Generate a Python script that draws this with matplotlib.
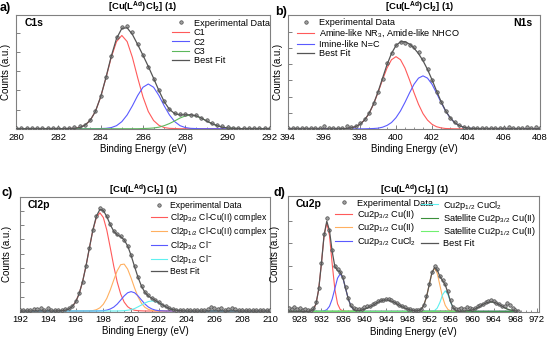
import matplotlib
matplotlib.use('Agg')
import matplotlib.pyplot as plt
import numpy as np
from matplotlib.ticker import AutoMinorLocator, MultipleLocator

plt.rcParams['font.family'] = ['Liberation Sans', 'DejaVu Sans']
plt.rcParams['mathtext.fontset'] = 'custom'
plt.rcParams['mathtext.rm'] = 'Liberation Sans'
plt.rcParams['mathtext.it'] = 'Liberation Sans:italic'
plt.rcParams['mathtext.bf'] = 'Liberation Sans:bold'

# ---------------- data (arbitrary count units) ----------------
# a) C1s, exp points every 0.25 eV from 280
c1s_exp = [0.04, 0.06, 0.03, 0.05, 0.02, 0.04, 0.03, 0.05, 0.04, 0.06, 0.05, 0.08, 0.12,
           0.22, 0.45, 0.93, 1.70, 2.70, 3.80, 4.78, 5.30, 5.38, 5.05, 4.42, 3.86, 3.22,
           2.62, 2.02, 1.45, 1.05, 0.82, 0.76, 0.75, 0.74, 0.70, 0.58, 0.44, 0.30, 0.19,
           0.12, 0.08, 0.06, 0.04, 0.05, 0.03, 0.04, 0.05, 0.03, 0.04]
# fit components: (start eV, values every 0.25 eV)
c1s_C1 = (282.5, [0.01, 0.02, 0.06, 0.18, 0.43, 0.90, 1.66, 2.66, 3.73, 4.56, 4.88, 4.56,
                  3.73, 2.66, 1.66, 0.90, 0.43, 0.18, 0.06, 0.02, 0.01])
c1s_C2 = (284.0, [0.01, 0.02, 0.06, 0.16, 0.37, 0.72, 1.20, 1.74, 2.17, 2.34, 2.17, 1.74,
                  1.20, 0.72, 0.37, 0.16, 0.06, 0.02, 0.01])
c1s_C3 = (286.0, [0.01, 0.02, 0.04, 0.08, 0.16, 0.27, 0.41, 0.56, 0.67, 0.71, 0.67, 0.56,
                  0.41, 0.27, 0.16, 0.08, 0.04, 0.02, 0.01])

# b) N1s, exp every 0.25 eV from 394
n1s_exp = [0.03, 0.05, 0.02, 0.06, 0.04, 0.03, 0.07, 0.05, 0.18, 0.06, 0.04, 0.07, 0.05,
           0.20, 0.09, 0.18, 0.33, 0.58, 1.00, 1.60, 2.30, 3.10, 4.05, 4.72, 5.20, 5.35,
           5.30, 5.22, 5.05, 4.75, 4.30, 3.70, 3.00, 2.30, 1.68, 1.10, 0.70, 0.40, 0.22,
           0.12, 0.08, 0.05, 0.07, 0.04, 0.06, 0.03, 0.08, 0.05, 0.07, 0.12, 0.06, 0.04,
           0.08, 0.10, 0.06, 0.09, 0.05]
n1s_amine = (397.0, [0.01, 0.02, 0.06, 0.13, 0.28, 0.54, 0.94, 1.52, 2.24, 3.03, 3.76, 4.28,
                     4.47, 4.28, 3.76, 3.03, 2.24, 1.52, 0.94, 0.54, 0.28, 0.13, 0.06, 0.02, 0.01])
n1s_imine = (398.5, [0.01, 0.02, 0.04, 0.10, 0.21, 0.39, 0.69, 1.11, 1.64, 2.22, 2.76, 3.14,
                     3.28, 3.14, 2.76, 2.22, 1.64, 1.11, 0.69, 0.39, 0.21, 0.10, 0.04, 0.02, 0.01])

# c) Cl2p, exp every 0.25 eV from 192
cl2p_exp = [0.08, 0.05, 0.10, 0.07, 0.12, 0.15, 0.22, 0.10, 0.18, 0.08, 0.06, 0.09, 0.08,
            0.12, 0.20, 0.36, 0.68, 1.22, 2.05, 3.15, 4.40, 5.65, 6.65, 7.15, 7.05, 6.60,
            6.05, 5.60, 5.36, 5.20, 4.98, 4.55, 3.92, 3.12, 2.38, 1.75, 1.33, 1.08, 0.90,
            0.76, 0.60, 0.45, 0.32, 0.20, 0.13, 0.09, 0.07, 0.06, 0.09, 0.05, 0.08, 0.06,
            0.10, 0.07, 0.15, 0.25, 0.18, 0.12, 0.20, 0.10, 0.15, 0.22, 0.12, 0.08, 0.05,
            0.10, 0.07, 0.06, 0.09, 0.05, 0.07, 0.04, 0.06]
cl2p_32_cu = (194.75, [0.01, 0.02, 0.05, 0.13, 0.30, 0.62, 1.18, 2.02, 3.13, 4.41, 5.64, 6.52,
                       6.85, 6.52, 5.64, 4.41, 3.13, 2.02, 1.18, 0.62, 0.30, 0.13, 0.05, 0.02, 0.01])
cl2p_12_cu = (197.0, [0.01, 0.03, 0.09, 0.22, 0.47, 0.88, 1.47, 2.16, 2.81, 3.23, 3.27, 2.92,
                      2.30, 1.60, 0.98, 0.53, 0.25, 0.11, 0.04, 0.01])
cl2p_32_cl = (197.75, [0.01, 0.02, 0.06, 0.14, 0.27, 0.48, 0.76, 1.05, 1.27, 1.35, 1.27, 1.05,
                       0.76, 0.48, 0.27, 0.14, 0.06, 0.02, 0.01])
cl2p_12_cl = (199.25, [0.01, 0.02, 0.05, 0.09, 0.17, 0.29, 0.42, 0.56, 0.66, 0.70, 0.66, 0.56,
                       0.42, 0.29, 0.17, 0.09, 0.05, 0.02, 0.01])

# d) Cu2p, exp every 0.5 eV from 926
cu2p_exp = [0.15, 0.12, 0.18, 0.10, 0.14, 0.08, 0.12, 0.06, 0.08, 0.15, 0.40, 1.02, 2.15,
            3.40, 4.10, 3.60, 2.70, 2.00, 1.85, 1.75, 1.50, 1.05, 0.60, 0.28, 0.15, 0.10,
            0.12, 0.10, 0.18, 0.22, 0.25, 0.32, 0.38, 0.45, 0.48, 0.52, 0.55, 0.56, 0.48,
            0.42, 0.36, 0.28, 0.22, 0.18, 0.12, 0.10, 0.08, 0.06, 0.08, 0.12, 0.30, 0.68,
            1.20, 1.75, 2.00, 1.85, 1.55, 1.40, 1.22, 0.90, 0.48, 0.20, 0.12, 0.10, 0.15,
            0.12, 0.18, 0.15, 0.12, 0.14, 0.22, 0.30, 0.34, 0.40, 0.45, 0.48, 0.44, 0.38,
            0.32, 0.25, 0.22, 0.35, 0.30, 0.15, 0.06, 0.03]
cu2p_32_cu = (930.0, [0.02, 0.08, 0.33, 0.97, 2.10, 3.34, 3.90, 3.34, 2.10, 0.97, 0.33, 0.08, 0.02])
cu2p_12_cu = (950.0, [0.02, 0.08, 0.26, 0.62, 1.15, 1.68, 1.90, 1.68, 1.15, 0.62, 0.26, 0.08, 0.02])
cu2p_32_cl = (932.5, [0.02, 0.07, 0.22, 0.54, 1.00, 1.46, 1.65, 1.46, 1.00, 0.54, 0.22, 0.07, 0.02])
cu2p_12_cl = (953.0, [0.03, 0.14, 0.39, 0.73, 0.90, 0.73, 0.39, 0.14, 0.03])
cu2p_sat32 = (938.0, [0.01, 0.02, 0.04, 0.06, 0.10, 0.14, 0.20, 0.26, 0.33, 0.40, 0.45, 0.49,
                      0.50, 0.49, 0.45, 0.40, 0.33, 0.26, 0.20, 0.14, 0.10, 0.06, 0.04, 0.02, 0.01])
cu2p_sat12 = (958.5, [0.01, 0.02, 0.04, 0.06, 0.10, 0.16, 0.23, 0.30, 0.36, 0.40, 0.42, 0.40,
                      0.36, 0.30, 0.23, 0.16, 0.10, 0.06, 0.04, 0.02, 0.01])

title = r'[Cu(L$^{\mathbf{Ad}}$)Cl$_{\mathbf{2}}$] (1)'

RED = '#ff5a5a'
BLUE = '#5a5aff'
GREEN = '#5cb85c'
ORANGE = '#ffb060'
CYAN = '#5ff0f0'
DKGREEN = '#3a8f3a'
LTGREEN = '#70f070'
FIT = '#555555'
GRAY = '#808080'


def on_grid(grid, comp, step):
    x0, vals = comp
    y = np.zeros(len(grid))
    i0 = int(round((x0 - grid[0]) / step))
    y[i0:i0 + len(vals)] = vals
    return y


def style(ax, xlim, ylim, xmajor, nyt, ypad):
    ax.set_xlim(*xlim)
    ax.set_ylim(*ylim)
    ax.xaxis.set_major_locator(MultipleLocator(xmajor))
    ax.xaxis.set_minor_locator(AutoMinorLocator(4))
    ax.set_yticks(range(nyt))
    ax.set_yticklabels([])
    ax.tick_params(direction='in', colors=GRAY, labelcolor='black', labelsize=6.8,
                   length=3, width=0.7, pad=2.5)
    ax.tick_params(which='minor', direction='in', length=1.5, width=0.6, colors=GRAY)
    for s in ax.spines.values():
        s.set_color(GRAY)
        s.set_linewidth(0.8)
    ax.set_xlabel('Binding Energy (eV)', fontsize=7, labelpad=1.5)
    ax.set_ylabel('Counts (a.u.)', fontsize=7, labelpad=ypad)


def plot_panel(ax, x0, step, exp, comps, xfit):
    xe = x0 + step * np.arange(len(exp))
    total = np.zeros(len(xfit))
    for comp, color, label in comps:
        y = on_grid(xfit, comp, step)
        total += y
        ax.plot(xfit, y, color=color, lw=0.8, label=label, zorder=2)
    ax.plot(xe, exp, 'o', ms=2.5, mfc='#a0a0a0', mec='#4a4a4a', mew=0.5,
            label='Experimental Data', zorder=3)
    ax.plot(xfit, total, color=FIT, lw=0.9, label='Best Fit', zorder=4)


leg_kw = dict(frameon=False, fontsize=6.6, handlelength=1.9, handletextpad=0.5,
              labelspacing=0.05, borderpad=0, borderaxespad=0)

fig = plt.figure(figsize=(5.5, 3.48), dpi=100)
W, H = 550.0, 348.0


def rect(l, r, t, b):
    return [l / W, 1 - b / H, (r - l) / W, (b - t) / H]


# a) C1s
ax = fig.add_axes(rect(16, 270, 15, 129.3))
g = np.arange(280, 292.001, 0.25)
plot_panel(ax, 280, 0.25, c1s_exp,
           [(c1s_C1, RED, 'C1'), (c1s_C2, BLUE, 'C2'), (c1s_C3, GREEN, 'C3')], g)
style(ax, (280, 292), (-0.03, 5.95), 2, 6, 0.8)
h, l = ax.get_legend_handles_labels()
order = [3, 0, 1, 2, 4]
ax.legend([h[i] for i in order], [l[i] for i in order], loc='upper left',
          bbox_to_anchor=(0.614, 0.968), **leg_kw)
ax.text(0.035, 0.93, 'C1s', transform=ax.transAxes, fontsize=7.5, fontweight='bold', va='center')

# b) N1s
ax = fig.add_axes(rect(288, 540, 15, 129.3))
g = np.arange(394, 408.001, 0.25)
plot_panel(ax, 394, 0.25, n1s_exp,
           [(n1s_amine, RED, 'Amine-like NR$_3$, Amide-like NHCO'),
            (n1s_imine, BLUE, 'Imine-like N=C')], g)
style(ax, (394, 408), (-0.03, 7.05), 2, 7, 1.0)
h, l = ax.get_legend_handles_labels()
order = [2, 0, 1, 3]
ax.legend([h[i] for i in order], [l[i] for i in order], loc='upper left',
          bbox_to_anchor=(0.035, 0.974), **leg_kw)
ax.text(0.97, 0.93, 'N1s', transform=ax.transAxes, fontsize=7.5, fontweight='bold',
        va='center', ha='right')

# c) Cl2p
ax = fig.add_axes(rect(20, 270, 197, 311.7))
g = np.arange(192, 210.001, 0.25)
plot_panel(ax, 192, 0.25, cl2p_exp,
           [(cl2p_32_cu, RED, 'Cl2p$_{3/2}$ Cl-Cu(II) complex'),
            (cl2p_12_cu, ORANGE, 'Cl2p$_{1/2}$ Cl-Cu(II) complex'),
            (cl2p_32_cl, BLUE, 'Cl2p$_{3/2}$ Cl$^{-}$'),
            (cl2p_12_cl, CYAN, 'Cl2p$_{1/2}$ Cl$^{-}$')], g)
style(ax, (192, 210), (-0.05, 7.95), 2, 8, 3)
h, l = ax.get_legend_handles_labels()
order = [4, 0, 1, 2, 3, 5]
kw_c = dict(leg_kw, fontsize=6.2, handlelength=1.8, handletextpad=0.4, labelspacing=0.12)
ax.legend([h[i] for i in order], [l[i] for i in order], loc='upper left',
          bbox_to_anchor=(0.524, 0.969), **kw_c)
ax.text(0.03, 0.93, 'Cl2p', transform=ax.transAxes, fontsize=7.5, fontweight='bold', va='center')

# d) Cu2p
ax = fig.add_axes(rect(288, 539, 196, 312))
g = np.arange(926, 968.501, 0.5)
plot_panel(ax, 926, 0.5, cu2p_exp,
           [(cu2p_32_cu, RED, 'Cu2p$_{3/2}$ Cu(II)'),
            (cu2p_12_cu, ORANGE, 'Cu2p$_{1/2}$ Cu(II)'),
            (cu2p_32_cl, BLUE, 'Cu2p$_{3/2}$ CuCl$_2$'),
            (cu2p_12_cl, CYAN, 'Cu2p$_{1/2}$ CuCl$_2$'),
            (cu2p_sat32, DKGREEN, 'Satellite Cu2p$_{3/2}$ Cu(II)'),
            (cu2p_sat12, LTGREEN, 'Satellite Cu2p$_{1/2}$ Cu(II)')], g)
style(ax, (925.8, 972.4), (-0.03, 5.08), 4, 5, 3)
h, l = ax.get_legend_handles_labels()
leg1 = ax.legend([h[i] for i in [6, 0, 1, 2]], [l[i] for i in [6, 0, 1, 2]],
                 loc='upper left', bbox_to_anchor=(0.187, 0.978), **leg_kw)
ax.add_artist(leg1)
ax.legend([h[i] for i in [3, 4, 5, 7]], [l[i] for i in [3, 4, 5, 7]],
          loc='upper left', bbox_to_anchor=(0.53, 0.978), **leg_kw)
ax.text(0.03, 0.93, 'Cu2p', transform=ax.transAxes, fontsize=7.5, fontweight='bold', va='center')

# titles and panel letters
for xt, yt in [(142.5, 7), (420, 7), (144, 190), (414.5, 190)]:
    fig.text(xt / W, 1 - yt / H, title, fontsize=6.8, fontweight='bold', ha='center', va='center')
for s, xt, yt in [('a)', 0, 8), ('b)', 275, 12), ('c)', 2, 193), ('d)', 273, 193)]:
    fig.text(xt / W, 1 - yt / H, s, fontsize=9, fontweight='bold', ha='left', va='center')

fig.savefig('out.png', dpi=100)
